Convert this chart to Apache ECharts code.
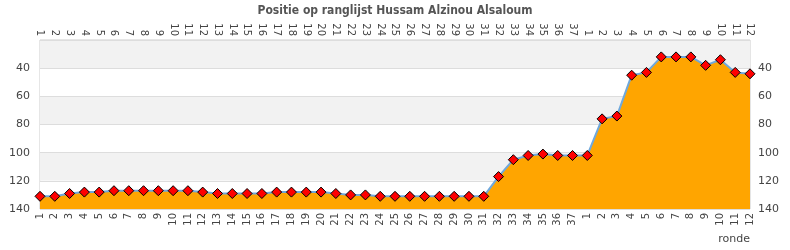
<!DOCTYPE html>
<html>
<head>
<meta charset="utf-8">
<script src="https://cdn.jsdelivr.net/npm/echarts@6/dist/echarts.min.js"></script>
<style>html,body{margin:0;padding:0;background:#fff}#c{width:790px;height:250px}</style>
</head>
<body>
<div id="c"></div>
<script>
var titleText = 'Positie op ranglijst Hussam Alzinou Alsaloum';
var axisName = 'ronde';
var categories = ['1','2','3','4','5','6','7','8','9','10','11','12','13','14','15','16','17','18','19','20','21','22','23','24','25','26','27','28','29','30','31','32','33','34','35','36','37','1','2','3','4','5','6','7','8','9','10','11','12'];
var positions = [131,131,129,128,128,127,127,127,127,127,127,128,129,129,129,129,128,128,128,128,129,130,130,131,131,131,131,131,131,131,131,117,105,102,101,102,102,102,76,74,45,43,32,32,32,38,34,43,44];
var yTicks = [20,40,60,80,100,120,140];

var chart = echarts.init(document.getElementById('c'), null, {renderer:'canvas'});
var labelFont = {fontFamily:'DejaVu Sans', fontSize:10, color:'#444'};
var xCommon = {
  type:'category', data:categories, boundaryGap:false,
  axisLine:{show:false}, axisTick:{show:false},
  axisLabel:Object.assign({rotate:90, interval:0, margin:4}, labelFont),
  splitLine:{show:false}
};
var yCommon = {
  type:'value', inverse:true, min:yTicks[0], max:yTicks[yTicks.length-1], interval:20,
  axisLine:{show:false}, axisTick:{show:false},
  axisLabel:Object.assign({showMinLabel:false, fontSize:11}, {fontFamily:'DejaVu Sans', color:'#444'})
};
chart.setOption({
  animation:false,
  title:{text:titleText, left:'center', top:0, textStyle:{fontFamily:'DejaVu Sans Condensed', fontWeight:'bold', fontSize:12, color:'#555'}},
  grid:{left:40, right:40, top:40, bottom:41, show:true, borderColor:'#ccc', borderWidth:1, backgroundColor:'transparent'},
  xAxis:[
    Object.assign({}, xCommon, {position:'bottom'}),
    Object.assign({}, xCommon, {position:'top'})
  ],
  yAxis:[
    Object.assign({}, yCommon, {position:'left', axisLabel:Object.assign({}, yCommon.axisLabel, {margin:10}),
      splitLine:{show:true, lineStyle:{color:'#ddd', width:1}},
      splitArea:{show:true, areaStyle:{color:['#f2f2f2','#ffffff']}}}),
    Object.assign({}, yCommon, {position:'right', axisLabel:Object.assign({}, yCommon.axisLabel, {margin:8}),
      splitLine:{show:false}})
  ],
  graphic:[{type:'text', right:40, top:234, style:{text:axisName, font:'11px DejaVu Sans', fill:'#444'}}],
  series:[{
    type:'line', data:positions, xAxisIndex:0, yAxisIndex:0,
    symbol:'diamond', symbolSize:10,
    lineStyle:{color:'#6fa8dc', width:2},
    itemStyle:{color:'#ff0000', borderColor:'#000', borderWidth:1},
    areaStyle:{color:'#ffa500', opacity:1, origin:'end'}
  }]
});
</script>
</body>
</html>
